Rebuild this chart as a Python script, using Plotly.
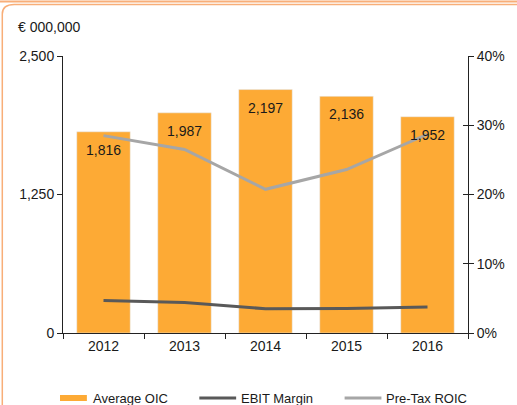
import plotly.graph_objects as go

years = ["2012", "2013", "2014", "2015", "2016"]
avg_oic = [1816, 1987, 2197, 2136, 1952]
ebit_margin = [0.047, 0.044, 0.035, 0.0355, 0.0375]
pretax_roic = [0.285, 0.265, 0.2075, 0.236, 0.287]
left_ticks = [0, 1250, 2500]
right_ticks = [0, 0.1, 0.2, 0.3, 0.4]

W, H = 517, 405
PL, PT, PR, PB = 63, 56, 470, 333  # plot area in page pixels
L, T = PL, PT
R, B = W - PR, H - PB
PW, PH = PR - PL, PB - PT

def px(x):
    return (x - PL) / PW

def py(y):
    return (PB - y) / PH

FONT = "Liberation Sans, Arial, sans-serif"
ORANGE = "#FDAA35"
DARK = "#595959"
LIGHT = "#A6A6A6"
TXT = "#1a1a1a"

fig = go.Figure()
fig.add_trace(go.Bar(x=years, y=avg_oic, marker_color=ORANGE,
                     name="Average OIC", showlegend=False))
fig.add_trace(go.Scatter(x=years, y=ebit_margin, yaxis="y2", mode="lines",
                         line=dict(color=DARK, width=3), name="EBIT Margin", showlegend=False))
fig.add_trace(go.Scatter(x=years, y=pretax_roic, yaxis="y3", mode="lines",
                         line=dict(color=LIGHT, width=3), name="Pre-Tax ROIC", showlegend=False))

for i, v in enumerate(avg_oic):
    fig.add_annotation(x=i, y=v, xref="x", yref="y", text=f"{v:,}", showarrow=False,
                       yanchor="middle", yshift=-18,
                       font=dict(family=FONT, size=14, color=TXT))

fig.update_layout(
    width=W, height=H,
    margin=dict(l=L, r=R, t=T, b=B),
    paper_bgcolor="white", plot_bgcolor="white",
    font=dict(family=FONT, size=14, color=TXT),
    bargap=0.34,
    xaxis=dict(type="category", range=[-0.5, len(years) - 0.5], showline=True,
               linecolor="#222", linewidth=1,
               ticks="outside", tickson="boundaries", ticklen=5, tickcolor="#222",
               showgrid=False, tickfont=dict(size=14)),
    yaxis=dict(range=[0, 2500], tickvals=left_ticks, tickformat=",", showline=True,
               linecolor="#222", ticks="outside", ticklen=5, tickcolor="#222",
               showgrid=False, zeroline=False, tickfont=dict(size=14)),
    yaxis2=dict(range=[0, 0.4], tickvals=right_ticks, tickformat=".0%", overlaying="y",
                side="right", showline=True, linecolor="#222", ticks="outside",
                ticklen=5, tickcolor="#222", showgrid=False, zeroline=False,
                tickfont=dict(size=14)),
    yaxis3=dict(range=[0, 0.4], tickvals=right_ticks, overlaying="y", side="right",
                showticklabels=False, ticks="inside", ticklen=5,
                tickcolor="#222", showgrid=False, zeroline=False, showline=False),
)

fig.add_annotation(xref="paper", yref="paper", x=px(16), y=py(27), xanchor="left",
                   yanchor="middle", text="€ 000,000", showarrow=False,
                   font=dict(family=FONT, size=14, color=TXT))

# custom legend
legend_items = [
    ("rect", ORANGE, 60, 87, 91, "Average OIC"),
    ("line", DARK, 200, 237, 240, "EBIT Margin"),
    ("line", LIGHT, 346, 383, 386, "Pre-Tax ROIC"),
]
ly = 398
for kind, col, x0, x1, tx, label in legend_items:
    if kind == "rect":
        fig.add_shape(type="rect", xref="paper", yref="paper", x0=px(x0), x1=px(x1),
                      y0=py(ly + 3), y1=py(ly - 3), fillcolor=col, line=dict(width=0))
    else:
        fig.add_shape(type="line", xref="paper", yref="paper", x0=px(x0), x1=px(x1),
                      y0=py(ly), y1=py(ly), line=dict(color=col, width=3))
    fig.add_annotation(xref="paper", yref="paper", x=px(tx), y=py(ly + 0.5), xanchor="left",
                       yanchor="middle", text=label, showarrow=False,
                       font=dict(family=FONT, size=13, color=TXT))

# top decorative border
BORDER = "#F8AE78"
fig.add_shape(type="line", xref="paper", yref="paper", x0=px(-5), x1=px(W + 10),
              y0=py(1.5), y1=py(1.5), line=dict(color=BORDER, width=2))
path = (f"M {px(2)},{py(H + 5)} L {px(2)},{py(14)} "
        f"Q {px(2)},{py(4.5)} {px(14)},{py(4.5)} L {px(W + 10)},{py(4.5)}")
fig.add_shape(type="path", xref="paper", yref="paper", path=path,
              line=dict(color=BORDER, width=1.5))

fig.write_html("out.html", config={"displayModeBar": False},
               post_script="document.body.style.margin='0';document.body.style.overflow='hidden';")
